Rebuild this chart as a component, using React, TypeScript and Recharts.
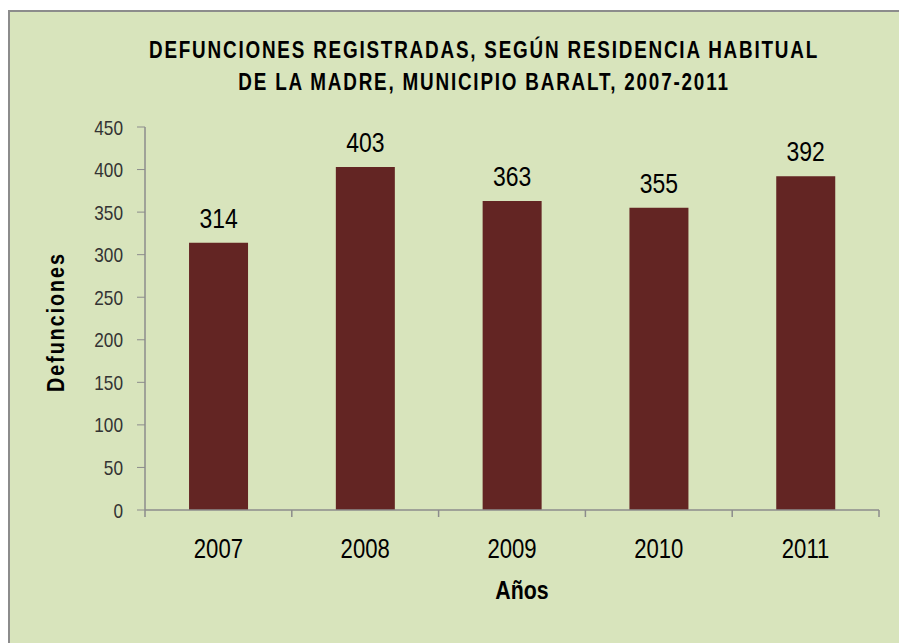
import { BarChart, Bar, XAxis, YAxis, LabelList } from 'recharts';

// datos
const years = ['2007', '2008', '2009', '2010', '2011'];
const deaths = [314, 403, 363, 355, 392];
const yTicks = [0, 50, 100, 150, 200, 250, 300, 350, 400, 450];

const chartData = years.map((year, i) => ({ year, deaths: deaths[i] }));

const FONT = "'Liberation Sans', Arial, sans-serif";
const NARROW = 0.82; // simula Arial Narrow
const AXIS_GRAY = '#8c8c8c';
const X_TICK_SIZE = 7;
const X_TICK_MARGIN = 22;

// texto comprimido horizontalmente alrededor de su ancla
function NarrowText({ x, y, anchor, size, fill, dy, children }: any) {
    return (
        <text
            x={x}
            y={y}
            dy={dy}
            textAnchor={anchor}
            fontFamily={FONT}
            fontSize={size}
            fill={fill}
            transform={`translate(${x} ${y}) scale(${NARROW} 1) translate(${-x} ${-y})`}
        >
            {children}
        </text>
    );
}

const YTick = (props: any) => (
    <NarrowText x={props.x} y={props.y} anchor="end" size={21} fill="#333" dy="0.36em">
        {props.payload.value}
    </NarrowText>
);

// etiqueta de categoría + marcas entre categorías (estilo Excel)
const XTick = (props: any) => {
    const { x, y, payload, index, visibleTicksCount, width } = props;
    const half = typeof payload.offset === 'number' && payload.offset > 0 ? payload.offset : width / visibleTicksCount / 2;
    const axisY = y - X_TICK_SIZE - X_TICK_MARGIN;
    const last = index === visibleTicksCount - 1;
    return (
        <g>
            <line x1={x - half} x2={x - half} y1={axisY} y2={axisY + X_TICK_SIZE} stroke={AXIS_GRAY} strokeWidth={1.5} />
            {last && (
                <line x1={x + half} x2={x + half} y1={axisY} y2={axisY + X_TICK_SIZE} stroke={AXIS_GRAY} strokeWidth={1.5} />
            )}
            <NarrowText x={x} y={y} anchor="middle" size={27} fill="#000" dy="0.71em">
                {payload.value}
            </NarrowText>
        </g>
    );
};

const ValueLabel = (props: any) => {
    const cx = props.x + props.width / 2;
    return (
        <NarrowText x={cx} y={props.y - 15} anchor="middle" size={28} fill="#000">
            {props.value}
        </NarrowText>
    );
};

export default function App() {
    return (
        <div style={{ position: 'absolute', left: 0, top: 0, width: 899, height: 643, overflow: 'hidden', background: '#fff' }}>
            <div
                style={{
                    position: 'absolute',
                    left: 8,
                    top: 10,
                    width: 900,
                    height: 640,
                    background: '#d8e4bc',
                    border: `2px solid ${AXIS_GRAY}`,
                }}
            />
            <div
                style={{
                    position: 'absolute',
                    left: -16,
                    top: 34,
                    width: 1000,
                    textAlign: 'center',
                    whiteSpace: 'nowrap',
                    fontFamily: FONT,
                    fontWeight: 'bold',
                    fontSize: 23,
                    letterSpacing: 2.2,
                    lineHeight: '32px',
                    color: '#000',
                    transform: `scaleX(${NARROW})`,
                }}
            >
                DEFUNCIONES REGISTRADAS, SEGÚN RESIDENCIA HABITUAL
                <br />
                DE LA MADRE, MUNICIPIO BARALT, 2007-2011
            </div>
            <div
                style={{
                    position: 'absolute',
                    left: 56,
                    top: 322,
                    transform: `translate(-50%, -50%) rotate(-90deg) scaleX(${NARROW})`,
                    fontFamily: FONT,
                    fontWeight: 'bold',
                    fontSize: 24,
                    letterSpacing: 2.4,
                    whiteSpace: 'nowrap',
                }}
            >
                Defunciones
            </div>
            <div
                style={{
                    position: 'absolute',
                    left: 522,
                    top: 590,
                    transform: `translate(-50%, -50%) scaleX(${NARROW})`,
                    fontFamily: FONT,
                    fontWeight: 'bold',
                    fontSize: 26,
                }}
            >
                Años
            </div>
            <div style={{ position: 'absolute', left: 0, top: 0 }}>
                <BarChart
                    width={899}
                    height={643}
                    data={chartData}
                    margin={{ top: 127, right: 20, bottom: 73, left: 85 }}
                    barCategoryGap="30%"
                >
                    <XAxis
                        dataKey="year"
                        axisLine={{ stroke: AXIS_GRAY, strokeWidth: 1.5 }}
                        tickLine={false}
                        height={60}
                        tickSize={X_TICK_SIZE}
                        tickMargin={X_TICK_MARGIN}
                        tick={<XTick />}
                    />
                    <YAxis
                        domain={[0, 450]}
                        ticks={yTicks}
                        width={60}
                        tickSize={8}
                        tickMargin={14}
                        stroke={AXIS_GRAY}
                        axisLine={{ stroke: AXIS_GRAY, strokeWidth: 1.5 }}
                        tick={<YTick />}
                    />
                    <Bar dataKey="deaths" fill="#632523" isAnimationActive={false}>
                        <LabelList dataKey="deaths" content={<ValueLabel />} />
                    </Bar>
                </BarChart>
            </div>
        </div>
    );
}
